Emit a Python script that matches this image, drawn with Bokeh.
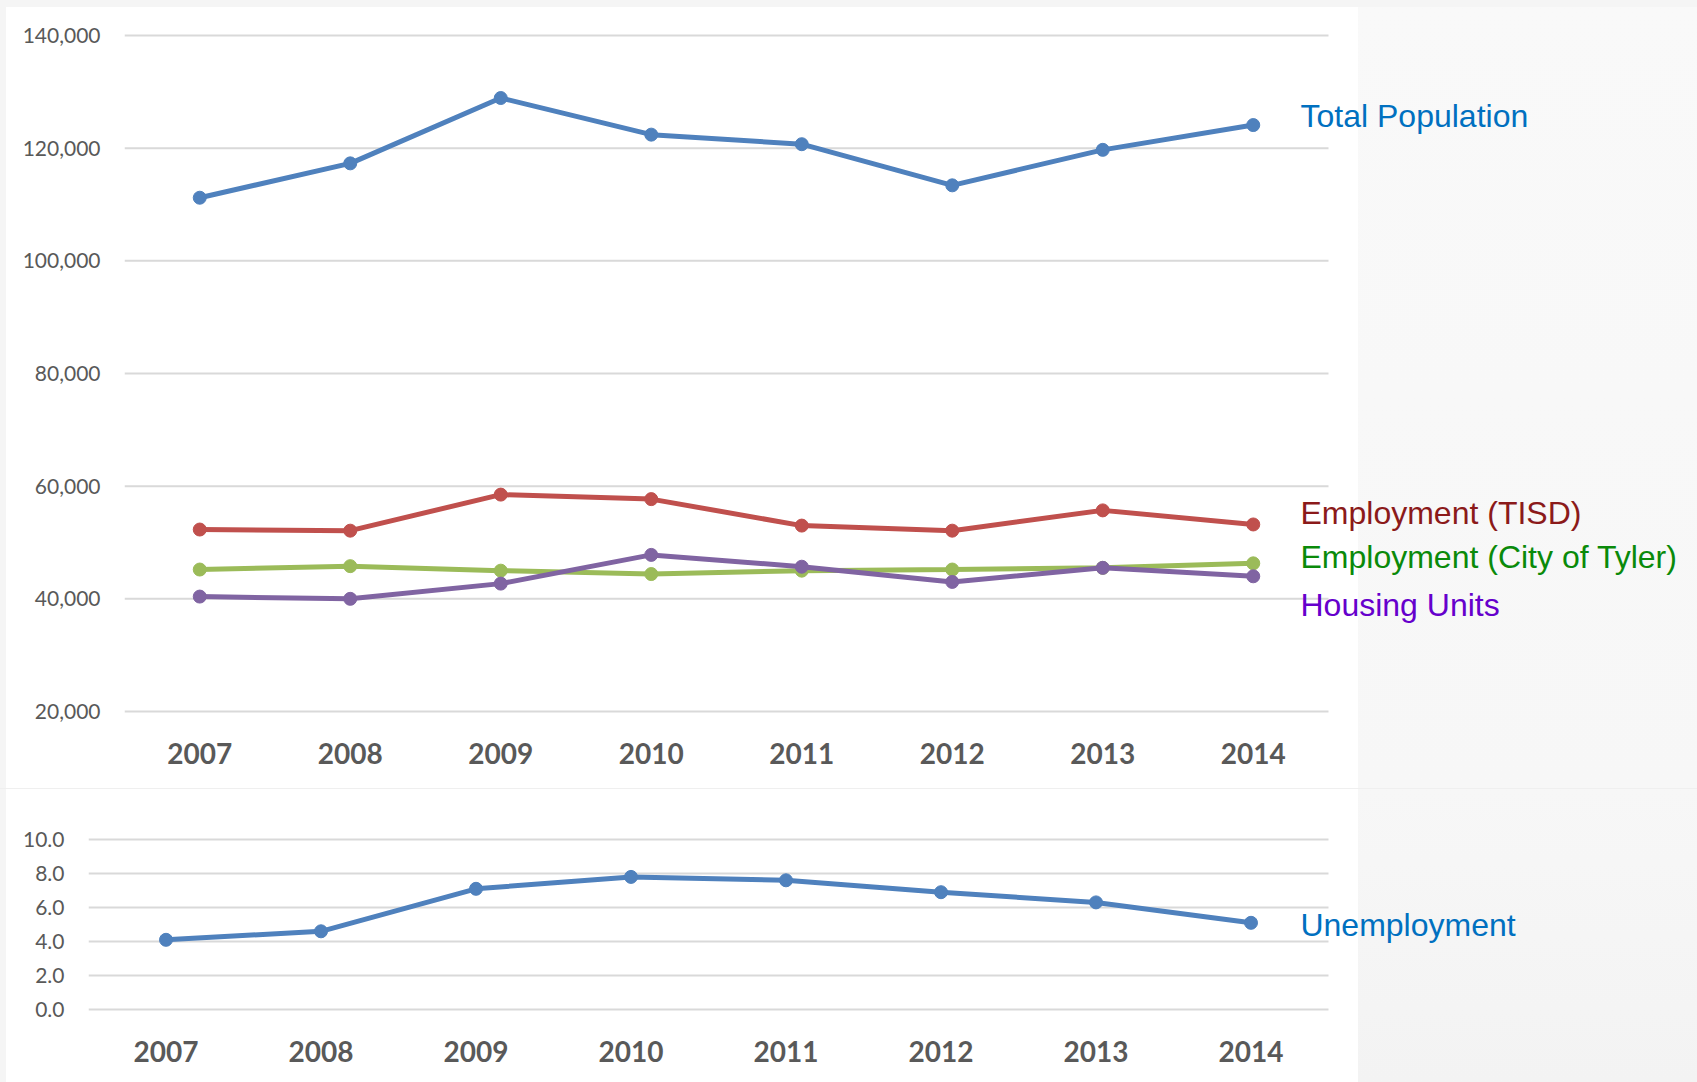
from bokeh.plotting import figure
from bokeh.models import Range1d, FixedTicker, NumeralTickFormatter, Label
from bokeh.embed import file_html
from bokeh.resources import INLINE

# ---------------- data ----------------
years = [2007, 2008, 2009, 2010, 2011, 2012, 2013, 2014]
total_population = [111200, 117300, 128900, 122400, 120700, 113400, 119700, 124100]
employment_tisd = [52300, 52100, 58500, 57700, 53000, 52100, 55700, 53200]
employment_city = [45200, 45800, 45000, 44400, 45000, 45200, 45500, 46300]
housing_units = [40400, 40000, 42700, 47800, 45700, 43000, 45500, 44000]
unemployment = [4.1, 4.6, 7.1, 7.8, 7.6, 6.9, 6.3, 5.1]
top_ticks = [20000, 40000, 60000, 80000, 100000, 120000, 140000]
bottom_ticks = [0, 2, 4, 6, 8, 10]

# ---------------- styles ----------------
GRID = "#D9D9D9"
TICK_COLOR = "#595959"
TICK_FONT = "Lato"
LABEL_FONT = "Liberation Sans"
LINE_W = 5
MARK = 13

# slide background: white chart panel on the left, light grey slide on the right
TOP_BG = ("linear-gradient(to bottom, #F5F5F5 0px, #F5F5F5 7px, transparent 7px), "
          "linear-gradient(to right, #F5F5F5 0px, #F5F5F5 6px, #FFFFFF 6px, #FFFFFF 1358px, transparent 1358px), "
          "linear-gradient(to bottom, #F9F9F9, #F7F7F7)")
BOTTOM_BG = ("linear-gradient(to bottom, #EFEFEF 0px, #EFEFEF 1px, transparent 1px), "
             "linear-gradient(to right, #F5F5F5 0px, #F5F5F5 6px, #FFFFFF 6px, #FFFFFF 1358px, transparent 1358px), "
             "linear-gradient(to bottom, #F7F7F7, #F3F3F3)")

series_top = [
    ("Total Population", total_population, "#4F81BD", "#0070C0", 125796),
    ("Employment (TISD)", employment_tisd, "#C0504D", "#8B1A1A", 55147),
    ("Employment (City of Tyler)", employment_city, "#9BBB59", "#0A8A0A", 47461),
    ("Housing Units", housing_units, "#8064A2", "#6600CC", 38869),
]


def make_fig(height, x_end, y_start, y_end, left_border, bottom_border,
             yticks, yformat, ystandoff, xstandoff, bg):
    p = figure(width=1697, height=height,
               x_range=Range1d(years[0] - 0.5, x_end),
               y_range=Range1d(y_start, y_end),
               output_backend="svg", toolbar_location=None,
               min_border_left=left_border, min_border_right=0,
               min_border_top=0, min_border_bottom=bottom_border,
               background_fill_color=None, border_fill_color=None,
               outline_line_color=None,
               styles={"background": bg})
    p.xgrid.visible = False
    p.ygrid.visible = False

    # gridlines limited to the category span
    n = len(yticks)
    p.segment(x0=[years[0] - 0.5] * n, x1=[years[-1] + 0.5] * n,
              y0=yticks, y1=yticks, line_color=GRID, line_width=2)

    xa = p.xaxis[0]
    xa.ticker = FixedTicker(ticks=years)
    xa.axis_line_color = None
    xa.major_tick_line_color = None
    xa.minor_tick_line_color = None
    xa.major_label_text_font = TICK_FONT
    xa.major_label_text_font_style = "bold"
    xa.major_label_text_font_size = "28px"
    xa.major_label_text_color = TICK_COLOR
    xa.major_label_standoff = xstandoff

    ya = p.yaxis[0]
    ya.ticker = FixedTicker(ticks=yticks)
    ya.formatter = NumeralTickFormatter(format=yformat)
    ya.axis_line_color = None
    ya.major_tick_line_color = None
    ya.minor_tick_line_color = None
    ya.major_label_text_font = TICK_FONT
    ya.major_label_text_font_size = "21px"
    ya.major_label_text_color = TICK_COLOR
    ya.major_label_standoff = ystandoff
    return p


# ---------------- top chart ----------------
top = make_fig(788, years[0] - 0.5 + 1573 / 150.5, 18757, 146210, 124, 70,
               top_ticks, "0,0", 18, 18, TOP_BG)
for name, vals, lc, tc, ly in series_top:
    top.line(years, vals, line_color=lc, line_width=LINE_W)
    top.scatter(years, vals, size=MARK, fill_color=lc, line_color=lc)
    top.add_layout(Label(x=years[-1] + 0.314, y=ly, text=name,
                         text_font=LABEL_FONT, text_font_size="32px",
                         text_color=tc, text_baseline="alphabetic",
                         text_align="left"))

# ---------------- bottom chart ----------------
bottom = make_fig(294, years[0] - 0.5 + 1609 / 155.0, -0.529, 13.0, 88, 64,
                  bottom_ticks, "0.0", 18, 16, BOTTOM_BG)
bottom.line(years, unemployment, line_color="#4F81BD", line_width=LINE_W)
bottom.scatter(years, unemployment, size=MARK, fill_color="#4F81BD", line_color="#4F81BD")
bottom.add_layout(Label(x=years[-1] + 0.319, y=4.96, text="Unemployment",
                        text_font=LABEL_FONT, text_font_size="32px",
                        text_color="#0070C0", text_baseline="alphabetic",
                        text_align="left"))

# two independent roots, stacked, so their frames are not aligned to each other
open("out.html", "w").write(file_html([top, bottom], INLINE))
